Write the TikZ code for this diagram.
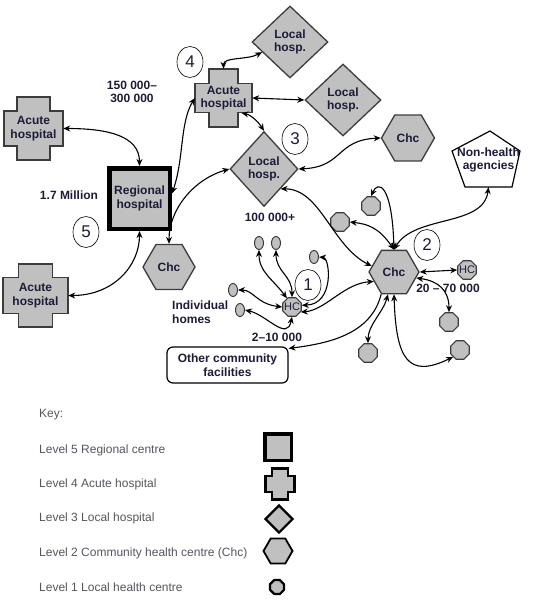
\documentclass[tikz,border=0pt]{standalone}
\usepackage{fontspec}
\setmainfont{Liberation Sans}
\usetikzlibrary{shapes.geometric,arrows.meta,calc}
\definecolor{shapegray}{RGB}{192,192,192}
\definecolor{bordergray}{RGB}{60,60,60}
\definecolor{navy}{RGB}{28,28,56}
\definecolor{keygray}{RGB}{85,85,95}
\newcommand\crossdraw[6]{%
  \begin{scope}[shift={#1}]
  \draw[#6] (-#4,-#3) -- (#4,-#3) -- (#4,-#5) -- (#2,-#5) -- (#2,#5) -- (#4,#5) -- (#4,#3) -- (-#4,#3) -- (-#4,#5) -- (-#2,#5) -- (-#2,-#5) -- (-#4,-#5) -- cycle;
  \end{scope}}
\begin{document}
\begin{tikzpicture}[x=1pt,y=-1pt,
  lbl/.style={font=\bfseries\fontsize{12}{13.5}\selectfont, text=navy, align=center, inner sep=0pt},
  crossfill/.style={fill=shapegray, draw=bordergray, line width=1.8pt},
  crossnode/.style={lbl, rectangle, draw=none},
  regbox/.style={lbl, rectangle, fill=shapegray, draw=black, line width=4.5pt, minimum size=60.5},
  diam/.style={lbl, diamond, aspect=1, fill=shapegray, draw=bordergray, line width=1.3pt},
  hexa/.style={lbl, regular polygon, regular polygon sides=6, minimum size=50, fill=shapegray, draw=bordergray, line width=1.3pt},
  octa/.style={regular polygon, regular polygon sides=8, minimum size=20, inner sep=0pt, fill=shapegray, draw=bordergray, line width=1.1pt},
  hctext/.style={font=\fontsize{11}{11}\selectfont, text=navy, inner sep=0pt},
  smell/.style={ellipse, minimum width=9, minimum height=13, inner sep=0pt, fill=shapegray, draw=bordergray, line width=1pt},
  numc/.style={ellipse, draw=black, line width=0.6pt, minimum width=26, minimum height=31, inner sep=0pt, font=\fontsize{17}{17}\selectfont, text=navy},
  conn/.style={{Stealth[length=7pt,width=6pt]}-{Stealth[length=7pt,width=6pt]}, line width=1.1pt, black},
  conn1/.style={-{Stealth[length=7pt,width=6pt]}, line width=1.1pt, black},
  keytxt/.style={anchor=west, inner sep=0pt, font=\fontsize{12}{14}\selectfont, text=keygray},
]
\useasboundingbox (0,0) rectangle (532,604);

% ---- crosses (Acute hospitals)
\crossdraw{(33.5,128.5)}{29.5}{31.5}{16.5}{17.5}{crossfill}
\node[crossnode, minimum width=59, minimum height=63] (acL1) at (33.5,128.5) {Acute\\hospital};
\crossdraw{(35.5,295.5)}{32.5}{31.5}{17}{18}{crossfill}
\node[crossnode, minimum width=65, minimum height=63] (acL2) at (35.5,295.5) {Acute\\hospital};
\crossdraw{(223.5,98)}{28.5}{29}{14.5}{14.5}{crossfill}
\node[crossnode, minimum width=57, minimum height=58] (acT) at (223.5,98) {Acute\\hospital};

% ---- regional hospital
\node[regbox] (reg) at (139.5,198.5) {Regional\\hospital};

% ---- local hospitals
\node[diam, minimum width=76, minimum height=72] (lhT) at (290,42) {Local\\hosp.};
\node[diam, minimum width=76, minimum height=72] (lhR) at (343,100) {Local\\hosp.};
\node[diam, minimum width=68, minimum height=75] (lhM) at (264,169) {Local\\hosp.};

% ---- community health centres
\node[hexa, minimum size=52] (chcL) at (169,267) {Chc};
\node[hexa, minimum size=53] (chcT) at (408,138) {Chc};
\node[hexa] (chc) at (394,272) {Chc};

% ---- non-health agencies
\draw[fill=white, draw=black, line width=1.2pt] (490,131) -- (520,151) -- (512,187) -- (465,187) -- (452,151) -- cycle;
\node[lbl, minimum width=70, minimum height=54] (nh) at (488.5,160) {Non-health\\agencies};

% ---- other community facilities
\node[lbl, rectangle, rounded corners=6pt, draw=black, fill=white, line width=1.2pt, minimum width=121, minimum height=36] (fac) at (227.5,365) {Other community\\facilities};

% ---- local health centres
\node[octa, label={[hctext]center:HC}] (hcR) at (467,270) {};
\node[octa, label={[hctext]center:HC}] (hcL) at (292,307) {};
\node[octa] (o1) at (371,206) {};
\node[octa] (o2) at (340,222) {};
\node[octa] (o3) at (449,322) {};
\node[octa] (o4) at (460,350) {};
\node[octa] (o5) at (368,353) {};

% ---- individual homes
\node[smell] (e1) at (259,243) {};
\node[smell] (e2) at (276,243) {};
\node[smell] (e3) at (314,257) {};
\node[smell] (e4) at (233,290) {};
\node[smell] (e5) at (240,310) {};

% ---- labels
\node[lbl] (t150) at (132,92) {150 000--\\300 000};
\node[lbl] (t17) at (69,195) {1.7 Million};
\node[lbl] (t100) at (270,217) {100 000+};
\node[lbl, align=left, anchor=west] (tind) at (172,312) {Individual\\homes};
\node[lbl] (t210) at (277,337) {2--10 000};
\node[lbl] (t2070) at (448,288) {20 -- 70 000};

% ---- level numbers
\node[numc] (n4) at (190,62) {4};
\node[numc] (n3) at (295,139) {3};
\node[numc] (n5) at (86,232) {5};
\node[numc] (n1) at (308,285) {1};
\node[numc] (n2) at (427,245) {2};

% ---- connectors
\draw[conn] (acL1.east) .. controls +(45,0) and +(0,-30) .. (reg.north);
\draw[conn] (acL2.east) .. controls +(45,0) and +(0,35) .. (reg.south);
\draw[conn] ([yshift=5pt]reg.east) .. controls +(12,-35) and +(-15,25) .. (acT.west);
\draw[conn] (acT.north) .. controls +(0,-12) and +(-15,8) .. (lhT.200);
\draw[conn] (acT.east) -- (lhR.west);
\draw[conn] ([xshift=18pt,yshift=-15pt]acT.center) .. controls +(10,2) and +(-5,-8) .. (lhM.north);
\draw[conn] (lhM.west) .. controls +(-35,10) and +(0,-35) .. (chcL.north);
\draw[conn] (lhM.east) .. controls +(45,-2) and +(-45,2) .. (chcT.west);
\draw[conn] (lhM.-50) .. controls +(40,0) and +(-40,-20) .. (chc.165);
\draw[conn] (chc.north) .. controls +(20,-35) and +(-5,40) .. (nh.south);
\draw[conn] (chc.north) .. controls +(-2,-66) and +(7,-16) .. (o1.north);
\draw[conn] (chc.north) .. controls +(-15,-22) and +(18,2) .. (o2.east);
\draw[conn] (chc.east) -- (hcR.west);
\draw[conn] (chc.-15) .. controls +(22,3) and +(0,-22) .. (o3.north);
\draw[conn] (chc.south) .. controls +(2,65) and +(-45,22) .. (o4.225);
\draw[conn] (chc.255) .. controls +(-5,18) and +(0,-18) .. (o5.north);
\draw[conn1] (chc.240) .. controls +(-10,40) and +(40,-5) .. ([yshift=-2pt]fac.north east);
\draw[conn] (chc.205) .. controls +(-30,2) and +(25,-2) .. (hcL.-30);
\draw[conn] (hcL.10) .. controls +(33,-1) and +(11,1) .. (e3.east);
\draw[conn] (hcL.120) .. controls +(-15,-20) and +(0,22) .. (e1.south);
\draw[conn] (hcL.90) .. controls +(0,-22) and +(0,22) .. (e2.south);
\draw[conn] (hcL.180) .. controls +(-25,-3) and +(15,0) .. (e4.east);
\draw[conn] (hcL.-90) .. controls +(-5,25) and +(22,5) .. (e5.east);

% ---- key
\node[keytxt] (kk) at (39,415) {Key:};
\node[keytxt] (k5) at (39,450) {Level 5 Regional centre};
\node[keytxt] (k4) at (39,484) {Level 4 Acute hospital};
\node[keytxt] (k3) at (39,518) {Level 3 Local hospital};
\node[keytxt] (k2) at (39,553) {Level 2 Community health centre (Chc)};
\node[keytxt] (k1) at (39,587) {Level 1 Local health centre};
\node[rectangle, fill=shapegray, draw=black, line width=3.5pt, minimum size=26.5, inner sep=0pt] (ks5) at (278,447) {};
\crossdraw{(280,484)}{14.5}{15.5}{8}{8}{fill=shapegray, draw=black, line width=2.5pt}
\node[rectangle, draw=none, minimum width=29, minimum height=31, inner sep=0pt] (ks4) at (280,484) {};
\node[diamond, aspect=1, fill=shapegray, draw=black, line width=2.2pt, minimum width=28, minimum height=28, inner sep=0pt] (ks3) at (279,519) {};
\node[regular polygon, regular polygon sides=6, fill=shapegray, draw=black, line width=1.8pt, minimum size=29, inner sep=0pt] (ks2) at (278,551) {};
\node[regular polygon, regular polygon sides=8, fill=shapegray, draw=black, line width=2.2pt, minimum size=15, inner sep=0pt] (ks1) at (277,587) {};
\end{tikzpicture}
\end{document}
